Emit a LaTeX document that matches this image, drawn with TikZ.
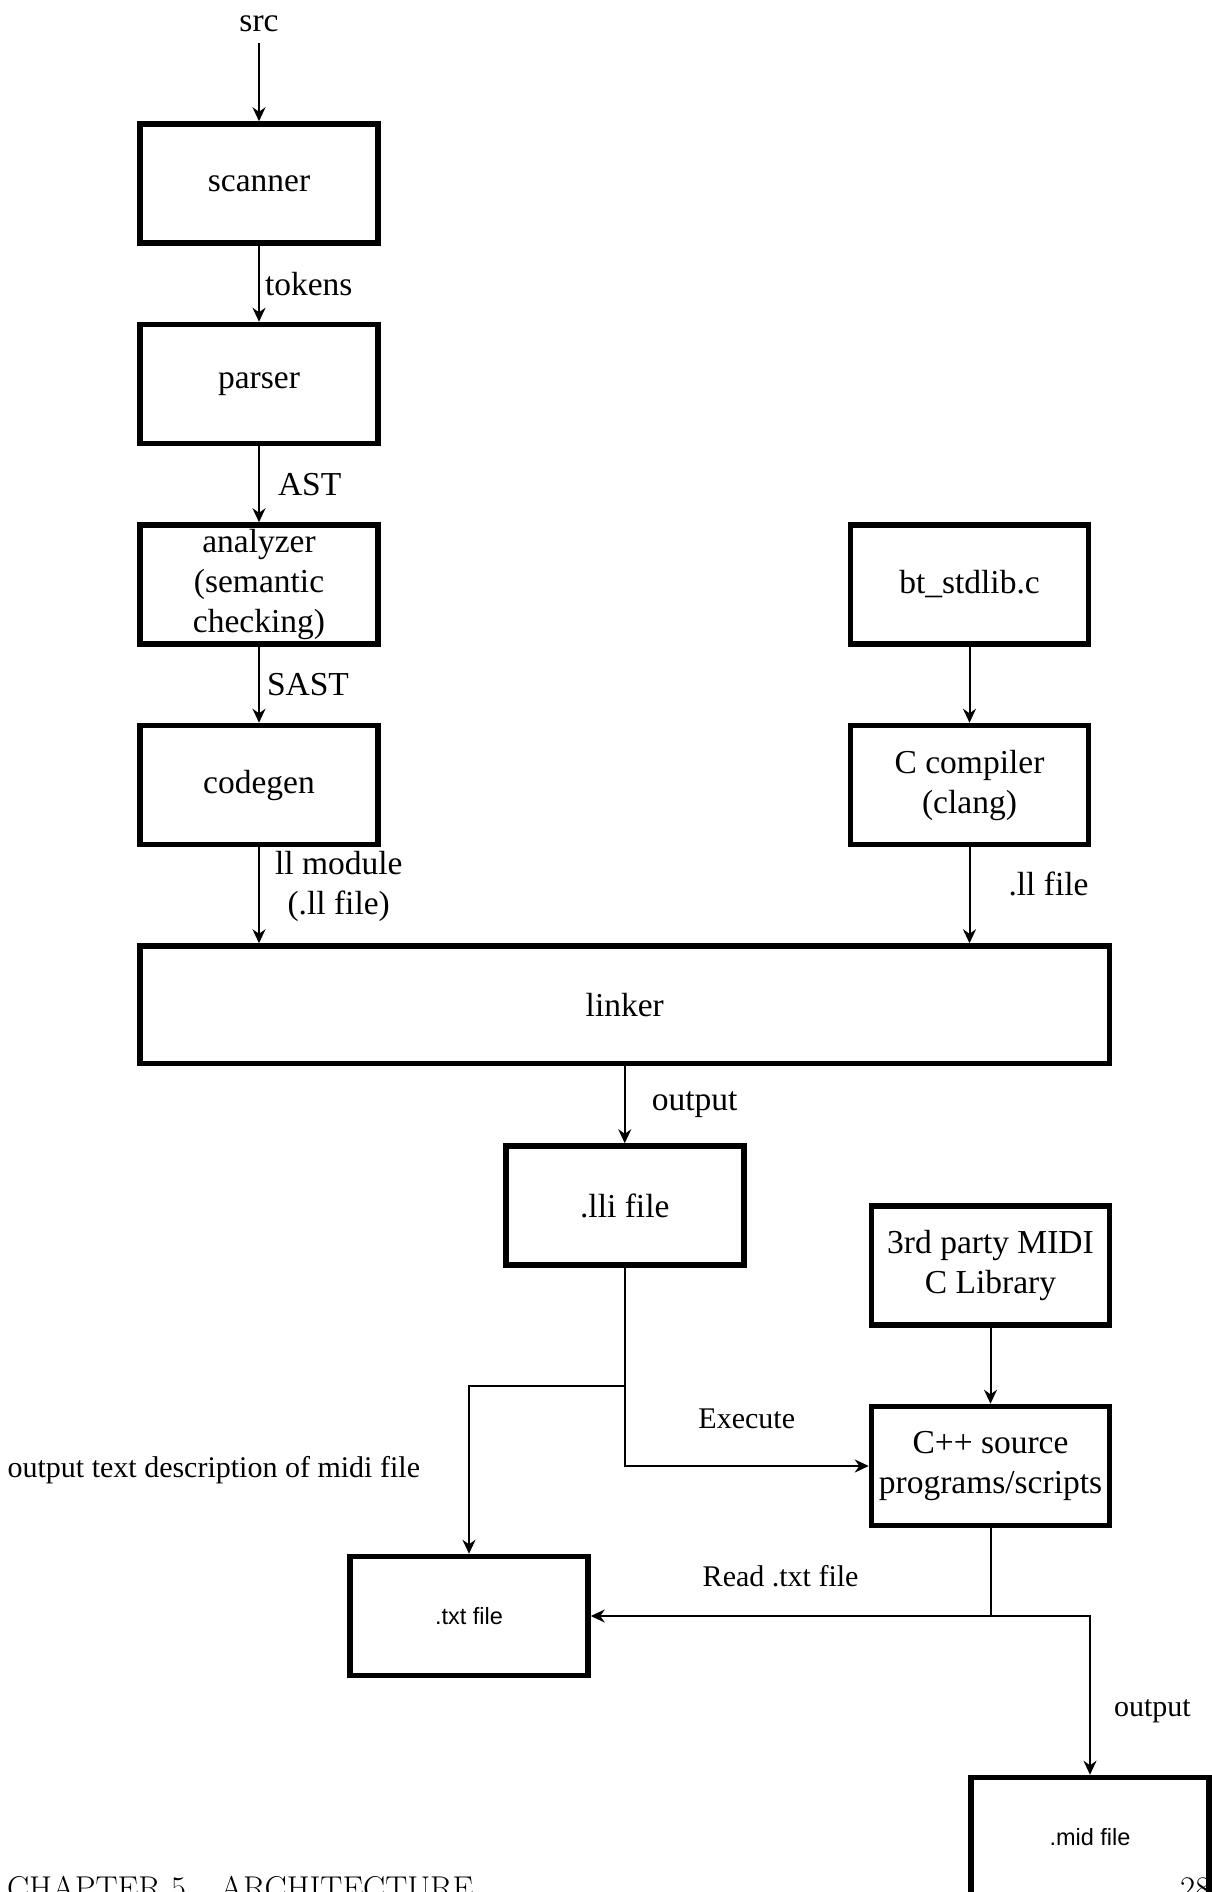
\documentclass[tikz,border=0pt]{standalone}
\usepackage{fontspec}
\setmainfont{Liberation Serif}
\newfontfamily\labelsans{Liberation Sans}
\usetikzlibrary{positioning, arrows.meta}

\begin{document}
\begin{tikzpicture}[x=1pt, y=1pt,
    block/.style={rectangle, draw=black, fill=white, line width=5.5pt, minimum width=238pt,
                  minimum height=119pt, inner sep=0pt, align=center,
                  font=\fontsize{33.5}{40}\selectfont},
    filebox/.style={block, font=\labelsans\fontsize{23.5}{28}\selectfont},
    lbl/.style={inner sep=2pt, align=center, font=\fontsize{33.5}{40}\selectfont},
    note/.style={inner sep=2pt, font=\fontsize{30}{36}\selectfont},
    pagetext/.style={anchor=base west, inner sep=0pt, font=\fontfamily{lmr}\fontsize{33}{40}\selectfont},
    flow/.style={-{Stealth[length=14pt, width=13pt]}, line width=2pt},
    wire/.style={line width=2pt},
    node distance=76pt
]
\useasboundingbox (0,0) rectangle (1211,-1892);

% Compiler front end
\node[lbl, inner sep=11pt] (src) at (259,-24) {src};
\node[block] (scanner) at (259,-183.5) {scanner};
\node[block, below=of scanner] (parser) {parser};
\node[block, below=of parser] (analyzer) {analyzer\\(semantic\\checking)};
\node[block, below=of analyzer] (codegen) {codegen};

% Runtime library
\node[block, right=467pt of analyzer] (stdlib) {bt\_stdlib.c};
\node[block, below=of stdlib] (clang) {C compiler\\(clang)};

% Linking and execution
\node[block, minimum width=969.5pt, minimum height=117.5pt,
      below right=96pt and 0pt of codegen.south west] (linker) {linker};
\node[block, below=77pt of linker] (lli) {.lli file};
\node[block, below left=137pt and 0pt of linker.south east] (midilib) {3rd party MIDI\\C Library};
\node[block, below=of midilib] (cpp) {C++ source\\programs/scripts};
\node[filebox] (txt) at (469,-1616) {.txt file};
\node[filebox] (mid) at (1090,-1837) {.mid file};

% Joints
\coordinate (fork) at ([yshift=-118pt]lli.south);
\coordinate (split) at (cpp.south |- txt.east);

% Connectors
\draw[flow] (src) -- (scanner);
\draw[flow] (scanner) -- node[lbl, right=3pt] {tokens} (parser);
\draw[flow] (parser) -- node[lbl, right=16pt] {AST} (analyzer);
\draw[flow] (analyzer) -- node[lbl, right=5pt] {SAST} (codegen);
\draw[flow] (codegen.south) -- node[lbl, right=13pt, yshift=9pt] {ll module\\(.ll file)} (codegen.south |- linker.north);
\draw[flow] (stdlib) -- (clang);
\draw[flow] (clang.south) -- node[lbl, right=36pt, yshift=11pt] {.ll file} (clang.south |- linker.north);
\draw[flow] (linker) -- node[lbl, right=24pt] {output} (lli);
\draw[flow] (lli.south) |- node[note, pos=0.75, above=34pt] {Execute} (cpp.west);
\draw[flow] (fork) -| node[note, pos=0.75, left=46pt] {output text description of midi file} (txt.north);
\draw[flow] (midilib) -- (cpp);
\draw[wire] (cpp.south) -- (split);
\draw[flow] (split) -- node[note, above=26pt, xshift=-10pt] {Read .txt file} (txt.east);
\draw[flow] (split) -| node[note, pos=0.8, right=21pt] {output} (mid.north);

% Page header
\node[pagetext] (chapter) at (7,-1899) {CHAPTER 5.\hspace{26pt}ARCHITECTURE};
\node[pagetext] (pagenum) at (1180,-1899) {28};

\end{tikzpicture}
\end{document}
